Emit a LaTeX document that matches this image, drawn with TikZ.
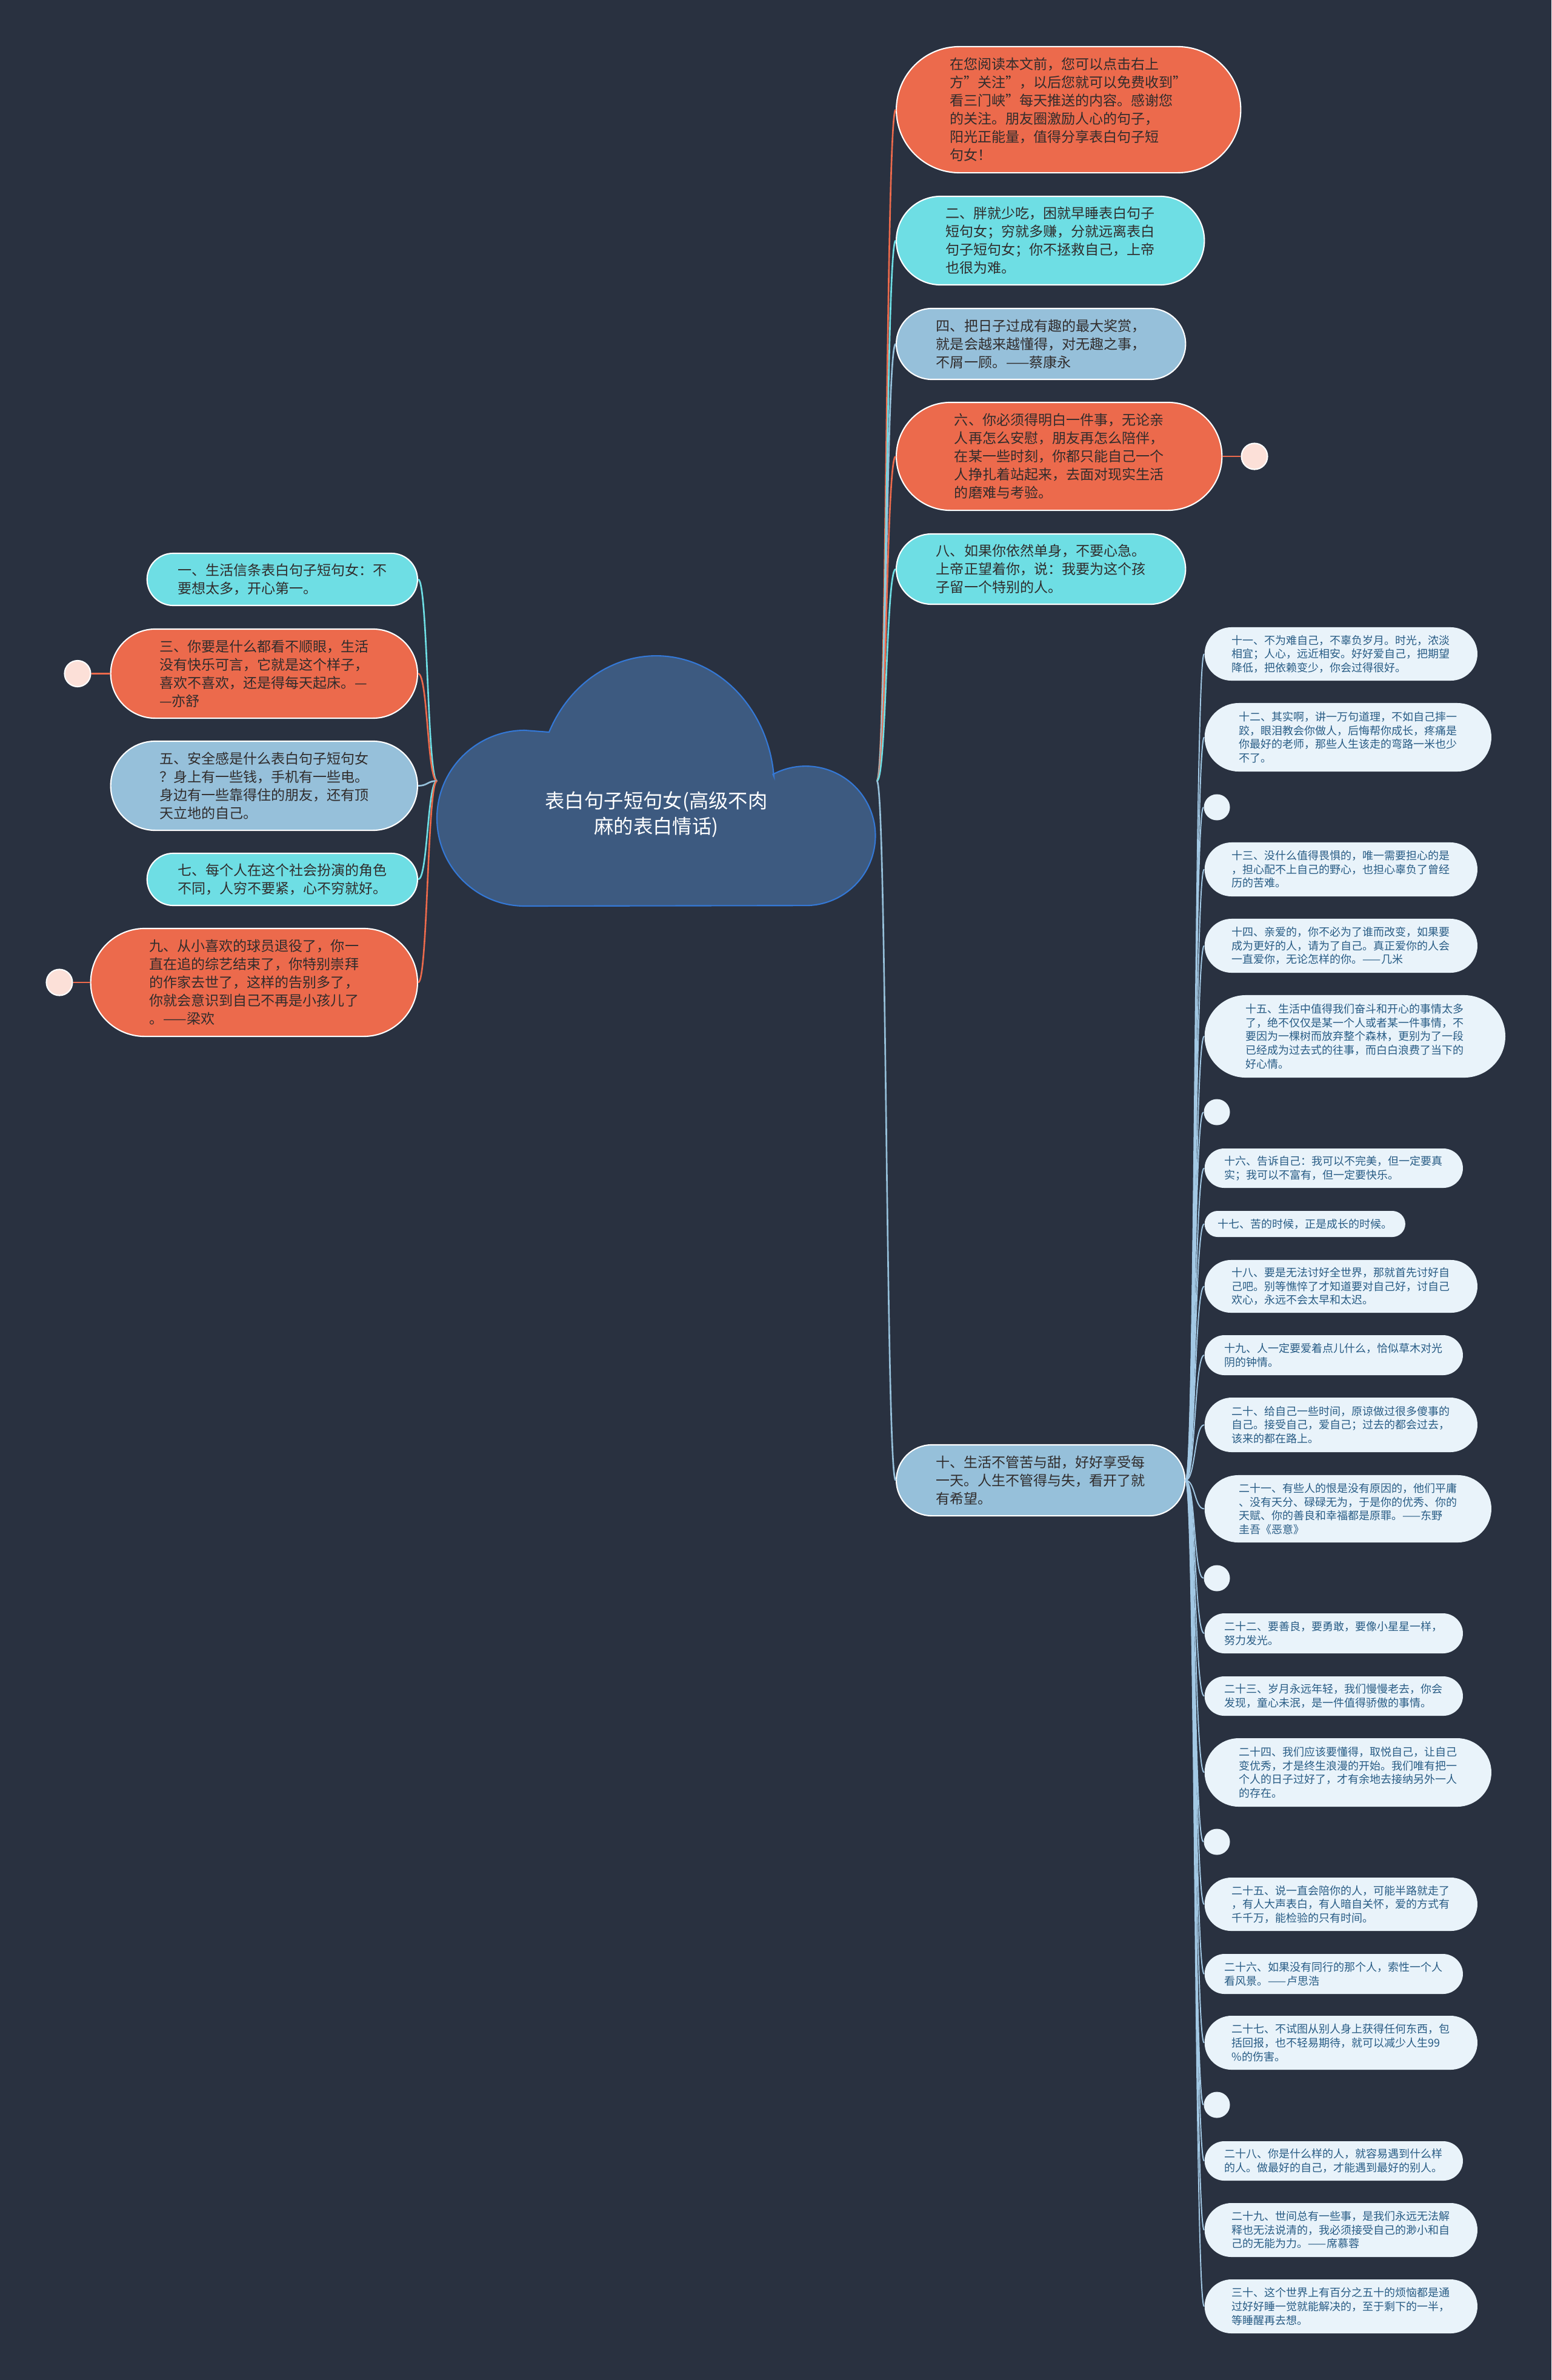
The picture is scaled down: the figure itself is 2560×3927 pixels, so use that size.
\documentclass[tikz,border=0pt]{standalone}
\usepackage{fontspec}
\setmainfont{Noto Sans CJK SC}
\usepackage{xcolor}
\usepackage{tikz}
\usetikzlibrary{shapes.misc}
\definecolor{bgdark}{RGB}{41,49,64}
\definecolor{cloudfill}{RGB}{61,90,128}
\definecolor{cloudline}{RGB}{52,120,214}
\definecolor{topicorange}{RGB}{236,106,76}
\definecolor{topiccyan}{RGB}{110,222,228}
\definecolor{topicblue}{RGB}{150,192,218}
\definecolor{topictext}{RGB}{48,44,44}
\definecolor{leaffill}{RGB}{233,243,250}
\definecolor{leaftext}{RGB}{40,92,133}
\definecolor{leafline}{RGB}{162,200,228}
\definecolor{dotpink}{RGB}{252,224,216}
\newcommand{\rootfont}{\fontsize{9.2pt}{11.95pt}\selectfont}
\newcommand{\topicfont}{\fontsize{6.55pt}{8.54pt}\selectfont}
\newcommand{\leaffont}{\fontsize{5.12pt}{6.43pt}\selectfont}

\begin{document}
\begin{tikzpicture}[x=0.01cm, y=-0.01cm, every node/.style={inner sep=0pt},
    topic/.style={rounded rectangle, draw=white, line width=0.6pt, align=left, text=topictext, font=\topicfont},
    leaf/.style={rounded rectangle, fill=leaffill, align=left, text=leaftext, font=\leaffont, anchor=west},
    blankdot/.style={circle, fill=leaffill, minimum size=0.43cm},
    pinkdot/.style={circle, fill=dotpink, draw=white, line width=0.6pt, minimum size=0.43cm},
    topiclink/.style={line width=0.75pt},
    leaflink/.style={line width=0.55pt, leafline}]
  \fill[bgdark] (0,0) rectangle (2560,3927);

  % central cloud
  \draw[cloudline, fill=cloudfill, line width=0.6pt] (866,1495) arc[start angle=90, end angle=270, radius=145]
    -- (906,1208) arc[start angle=205, end angle=355, x radius=195, y radius=218]
    -- (1275.5,1277.6) arc[start angle=242, end angle=450, radius=115] -- cycle;
  \node[minimum width=7.24cm, minimum height=4.13cm] (root) at (1084,1288.5) {};
  \node[font=\rootfont, text=white, align=center] (title) at (1083,1344) {表白句子短句女(高级不肉\\麻的表白情话)};

  % right topics
  \node[topic, fill=topicorange, anchor=west, minimum width=5.68cm, minimum height=2.08cm] (r1) at (1478,181)
    {在您阅读本文前，您可以点击右上\\方"关注"，以后您就可以免费收到"\\看三门峡"每天推送的内容。感谢您\\的关注。朋友圈激励人心的句子，\\阳光正能量，值得分享表白句子短\\句女！};
  \node[topic, fill=topiccyan, anchor=west, minimum width=5.08cm, minimum height=1.46cm] (r2) at (1478,397)
    {二、胖就少吃，困就早睡表白句子\\短句女；穷就多赚，分就远离表白\\句子短句女；你不拯救自己，上帝\\也很为难。};
  \node[topic, fill=topicblue, anchor=west, minimum width=4.77cm, minimum height=1.17cm] (r3) at (1478,567.5)
    {四、把日子过成有趣的最大奖赏，\\就是会越来越懂得，对无趣之事，\\不屑一顾。——蔡康永};
  \node[topic, fill=topicorange, anchor=west, minimum width=5.37cm, minimum height=1.78cm] (r4) at (1478,753)
    {六、你必须得明白一件事，无论亲\\人再怎么安慰，朋友再怎么陪伴，\\在某一些时刻，你都只能自己一个\\人挣扎着站起来，去面对现实生活\\的磨难与考验。};
  \node[topic, fill=topiccyan, anchor=west, minimum width=4.77cm, minimum height=1.16cm] (r5) at (1478,939)
    {八、如果你依然单身，不要心急。\\上帝正望着你，说：我要为这个孩\\子留一个特别的人。};
  \node[topic, fill=topicblue, anchor=west, minimum width=4.76cm, minimum height=1.17cm] (r6) at (1478,2442.5)
    {十、生活不管苦与甜，好好享受每\\一天。人生不管得与失，看开了就\\有希望。};
  \node[pinkdot] (p1) at (2070,753) {};

  % left topics
  \node[topic, fill=topiccyan, anchor=east, minimum width=4.46cm, minimum height=0.86cm] (l1) at (690,956)
    {一、生活信条表白句子短句女：不\\要想太多，开心第一。};
  \node[topic, fill=topicorange, anchor=east, minimum width=5.06cm, minimum height=1.47cm] (l2) at (690,1111.5)
    {三、你要是什么都看不顺眼，生活\\没有快乐可言，它就是这个样子，\\喜欢不喜欢，还是得每天起床。—\\—亦舒};
  \node[topic, fill=topicblue, anchor=east, minimum width=5.06cm, minimum height=1.47cm] (l3) at (690,1296.5)
    {五、安全感是什么表白句子短句女\\？身上有一些钱，手机有一些电。\\身边有一些靠得住的朋友，还有顶\\天立地的自己。};
  \node[topic, fill=topiccyan, anchor=east, minimum width=4.46cm, minimum height=0.86cm] (l4) at (690,1451)
    {七、每个人在这个社会扮演的角色\\不同，人穷不要紧，心不穷就好。};
  \node[topic, fill=topicorange, anchor=east, minimum width=5.39cm, minimum height=1.78cm] (l5) at (690,1621)
    {九、从小喜欢的球员退役了，你一\\直在追的综艺结束了，你特别崇拜\\的作家去世了，这样的告别多了，\\你就会意识到自己不再是小孩儿了\\。——梁欢};
  \node[pinkdot] (p2) at (128,1111.5) {};
  \node[pinkdot] (p3) at (98,1621) {};

  % leaves of topic ten
  \node[leaf, minimum width=4.50cm, minimum height=0.88cm] (s11) at (1987,1079)
    {十一、不为难自己，不辜负岁月。时光，浓淡\\相宜；人心，远近相安。好好爱自己，把期望\\降低，把依赖变少，你会过得很好。};
  \node[leaf, minimum width=4.73cm, minimum height=1.13cm] (s12) at (1987,1216.5)
    {十二、其实啊，讲一万句道理，不如自己摔一\\跤，眼泪教会你做人，后悔帮你成长，疼痛是\\你最好的老师，那些人生该走的弯路一米也少\\不了。};
  \node[blankdot] (d1) at (2008,1332) {};
  \node[leaf, minimum width=4.50cm, minimum height=0.89cm] (s13) at (1987,1434.5)
    {十三、没什么值得畏惧的，唯一需要担心的是\\，担心配不上自己的野心，也担心辜负了曾经\\历的苦难。};
  \node[leaf, minimum width=4.50cm, minimum height=0.89cm] (s14) at (1987,1560.5)
    {十四、亲爱的，你不必为了谁而改变，如果要\\成为更好的人，请为了自己。真正爱你的人会\\一直爱你，无论怎样的你。——几米};
  \node[leaf, minimum width=4.96cm, minimum height=1.36cm] (s15) at (1987,1710)
    {十五、生活中值得我们奋斗和开心的事情太多\\了，绝不仅仅是某一个人或者某一件事情，不\\要因为一棵树而放弃整个森林，更别为了一段\\已经成为过去式的往事，而白白浪费了当下的\\好心情。};
  \node[blankdot] (d2) at (2008,1835) {};
  \node[leaf, minimum width=4.26cm, minimum height=0.65cm] (s16) at (1987,1927.5)
    {十六、告诉自己：我可以不完美，但一定要真\\实；我可以不富有，但一定要快乐。};
  \node[leaf, minimum width=3.31cm, minimum height=0.43cm] (s17) at (1987,2019.5)
    {十七、苦的时候，正是成长的时候。};
  \node[leaf, minimum width=4.50cm, minimum height=0.87cm] (s18) at (1987,2122.5)
    {十八、要是无法讨好全世界，那就首先讨好自\\己吧。别等憔悴了才知道要对自己好，讨自己\\欢心，永远不会太早和太迟。};
  \node[leaf, minimum width=4.26cm, minimum height=0.66cm] (s19) at (1987,2236)
    {十九、人一定要爱着点儿什么，恰似草木对光\\阴的钟情。};
  \node[leaf, minimum width=4.50cm, minimum height=0.90cm] (s20) at (1987,2351)
    {二十、给自己一些时间，原谅做过很多傻事的\\自己。接受自己，爱自己；过去的都会过去，\\该来的都在路上。};
  \node[leaf, minimum width=4.73cm, minimum height=1.11cm] (s21) at (1987,2489.5)
    {二十一、有些人的恨是没有原因的，他们平庸\\、没有天分、碌碌无为，于是你的优秀、你的\\天赋、你的善良和幸福都是原罪。——东野\\圭吾《恶意》};
  \node[blankdot] (d3) at (2008,2604) {};
  \node[leaf, minimum width=4.26cm, minimum height=0.66cm] (s22) at (1987,2695)
    {二十二、要善良，要勇敢，要像小星星一样，\\努力发光。};
  \node[leaf, minimum width=4.26cm, minimum height=0.65cm] (s23) at (1987,2798.5)
    {二十三、岁月永远年轻，我们慢慢老去，你会\\发现，童心未泯，是一件值得骄傲的事情。};
  \node[leaf, minimum width=4.73cm, minimum height=1.13cm] (s24) at (1987,2924.5)
    {二十四、我们应该要懂得，取悦自己，让自己\\变优秀，才是终生浪漫的开始。我们唯有把一\\个人的日子过好了，才有余地去接纳另外一人\\的存在。};
  \node[blankdot] (d4) at (2008,3039) {};
  \node[leaf, minimum width=4.50cm, minimum height=0.88cm] (s25) at (1987,3142)
    {二十五、说一直会陪你的人，可能半路就走了\\，有人大声表白，有人暗自关怀，爱的方式有\\千千万，能检验的只有时间。};
  \node[leaf, minimum width=4.26cm, minimum height=0.66cm] (s26) at (1987,3257)
    {二十六、如果没有同行的那个人，索性一个人\\看风景。——卢思浩};
  \node[leaf, minimum width=4.50cm, minimum height=0.89cm] (s27) at (1987,3370.5)
    {二十七、不试图从别人身上获得任何东西，包\\括回报，也不轻易期待，就可以减少人生99\\\%的伤害。};
  \node[blankdot] (d5) at (2008,3473) {};
  \node[leaf, minimum width=4.26cm, minimum height=0.65cm] (s28) at (1987,3565.5)
    {二十八、你是什么样的人，就容易遇到什么样\\的人。做最好的自己，才能遇到最好的别人。};
  \node[leaf, minimum width=4.50cm, minimum height=0.89cm] (s29) at (1987,3679.5)
    {二十九、世间总有一些事，是我们永远无法解\\释也无法说清的，我必须接受自己的渺小和自\\己的无能为力。——席慕蓉};
  \node[leaf, minimum width=4.50cm, minimum height=0.89cm] (s30) at (1987,3805.5)
    {三十、这个世界上有百分之五十的烦恼都是通\\过好好睡一觉就能解决的，至于剩下的一半，\\等睡醒再去想。};

  % links from the cloud
  \draw[topiclink, topicorange] (root.east) .. controls +(16,0) and +(-16,0) .. (r1.west);
  \draw[topiclink, topiccyan] (root.east) .. controls +(16,0) and +(-16,0) .. (r2.west);
  \draw[topiclink, topicblue] (root.east) .. controls +(16,0) and +(-16,0) .. (r3.west);
  \draw[topiclink, topicorange] (root.east) .. controls +(16,0) and +(-16,0) .. (r4.west);
  \draw[topiclink, topiccyan] (root.east) .. controls +(16,0) and +(-16,0) .. (r5.west);
  \draw[topiclink, topicblue] (root.east) .. controls +(16,0) and +(-16,0) .. (r6.west);
  \draw[topiclink, topiccyan] (root.west) .. controls +(-16,0) and +(16,0) .. (l1.east);
  \draw[topiclink, topicorange] (root.west) .. controls +(-16,0) and +(16,0) .. (l2.east);
  \draw[topiclink, topicblue] (root.west) .. controls +(-16,0) and +(16,0) .. (l3.east);
  \draw[topiclink, topiccyan] (root.west) .. controls +(-16,0) and +(16,0) .. (l4.east);
  \draw[topiclink, topicorange] (root.west) .. controls +(-16,0) and +(16,0) .. (l5.east);
  \draw[topiclink, topicorange] (r4.east) -- (p1.west);
  \draw[topiclink, topicorange] (l2.west) -- (p2.east);
  \draw[topiclink, topicorange] (l5.west) -- (p3.east);

  % links from topic ten
  \draw[leaflink] (r6.east) .. controls +(16,0) and +(-16,0) .. (s11.west);
  \draw[leaflink] (r6.east) .. controls +(16,0) and +(-16,0) .. (s12.west);
  \draw[leaflink] (r6.east) .. controls +(16,0) and +(-16,0) .. (d1.west);
  \draw[leaflink] (r6.east) .. controls +(16,0) and +(-16,0) .. (s13.west);
  \draw[leaflink] (r6.east) .. controls +(16,0) and +(-16,0) .. (s14.west);
  \draw[leaflink] (r6.east) .. controls +(16,0) and +(-16,0) .. (s15.west);
  \draw[leaflink] (r6.east) .. controls +(16,0) and +(-16,0) .. (d2.west);
  \draw[leaflink] (r6.east) .. controls +(16,0) and +(-16,0) .. (s16.west);
  \draw[leaflink] (r6.east) .. controls +(16,0) and +(-16,0) .. (s17.west);
  \draw[leaflink] (r6.east) .. controls +(16,0) and +(-16,0) .. (s18.west);
  \draw[leaflink] (r6.east) .. controls +(16,0) and +(-16,0) .. (s19.west);
  \draw[leaflink] (r6.east) .. controls +(16,0) and +(-16,0) .. (s20.west);
  \draw[leaflink] (r6.east) .. controls +(16,0) and +(-16,0) .. (s21.west);
  \draw[leaflink] (r6.east) .. controls +(16,0) and +(-16,0) .. (d3.west);
  \draw[leaflink] (r6.east) .. controls +(16,0) and +(-16,0) .. (s22.west);
  \draw[leaflink] (r6.east) .. controls +(16,0) and +(-16,0) .. (s23.west);
  \draw[leaflink] (r6.east) .. controls +(16,0) and +(-16,0) .. (s24.west);
  \draw[leaflink] (r6.east) .. controls +(16,0) and +(-16,0) .. (d4.west);
  \draw[leaflink] (r6.east) .. controls +(16,0) and +(-16,0) .. (s25.west);
  \draw[leaflink] (r6.east) .. controls +(16,0) and +(-16,0) .. (s26.west);
  \draw[leaflink] (r6.east) .. controls +(16,0) and +(-16,0) .. (s27.west);
  \draw[leaflink] (r6.east) .. controls +(16,0) and +(-16,0) .. (d5.west);
  \draw[leaflink] (r6.east) .. controls +(16,0) and +(-16,0) .. (s28.west);
  \draw[leaflink] (r6.east) .. controls +(16,0) and +(-16,0) .. (s29.west);
  \draw[leaflink] (r6.east) .. controls +(16,0) and +(-16,0) .. (s30.west);
\end{tikzpicture}
\end{document}
